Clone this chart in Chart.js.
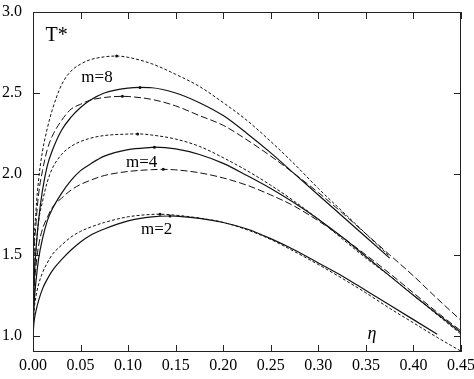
<!DOCTYPE html>
<html>
<head>
<meta charset="utf-8">
<script src="https://cdn.jsdelivr.net/npm/chart.js@4"></script>
<style>
  html, body { margin: 0; padding: 0; background: #fff; }
  #wrap { width: 474px; height: 379px; }
</style>
</head>
<body>
<div id="wrap"><canvas id="chart"></canvas></div>
<script>
// packing fraction grid (eta) and reduced temperature T* per curve
const eta = [0, 0.001, 0.003, 0.006, 0.01, 0.015, 0.02, 0.03, 0.04, 0.05, 0.06, 0.075, 0.1, 0.125, 0.15, 0.175, 0.2, 0.225, 0.25, 0.275, 0.3, 0.325, 0.35, 0.375, 0.4, 0.425, 0.45];

const m8Dotted = [1.0, 1.50, 1.76, 1.97, 2.14, 2.28, 2.39, 2.55, 2.635, 2.678, 2.705, 2.723, 2.72, 2.68, 2.615, 2.54, 2.44, 2.33, 2.20, 2.06, 1.91, 1.77, 1.63, 1.49, null, null, null];
const m8Solid  = [1.0, 1.30, 1.52, 1.72, 1.90, 2.05, 2.14, 2.27, 2.35, 2.41, 2.455, 2.50, 2.53, 2.532, 2.50, 2.44, 2.36, 2.25, 2.13, 2.00, 1.87, 1.74, 1.61, 1.48, null, null, null];
const m8Dashed = [1.0, 1.45, 1.68, 1.88, 2.02, 2.15, 2.23, 2.33, 2.40, 2.43, 2.455, 2.472, 2.478, 2.46, 2.42, 2.36, 2.30, 2.21, 2.11, 2.00, 1.885, 1.76, 1.63, 1.50, 1.37, 1.23, 1.095];

const m4Dotted = [1.0, 1.30, 1.52, 1.71, 1.83, 1.95, 2.03, 2.12, 2.17, 2.20, 2.22, 2.237, 2.246, 2.24, 2.215, 2.17, 2.10, 2.02, 1.93, 1.83, 1.72, 1.60, 1.48, 1.37, 1.25, 1.13, 1.01];
const m4Solid  = [1.0, 1.18, 1.33, 1.48, 1.60, 1.71, 1.78, 1.88, 1.96, 2.02, 2.06, 2.11, 2.15, 2.164, 2.155, 2.12, 2.065, 1.99, 1.91, 1.82, 1.72, 1.61, 1.49, 1.37, 1.25, 1.135, 1.02];
const m4Dashed = [1.0, 1.25, 1.42, 1.56, 1.66, 1.73, 1.79, 1.85, 1.90, 1.935, 1.96, 1.99, 2.015, 2.026, 2.025, 2.007, 1.975, 1.93, 1.87, 1.80, 1.71, 1.61, 1.50, 1.385, 1.265, 1.145, 1.03];

const m2Dotted = [1.0, 1.14, 1.24, 1.32, 1.39, 1.45, 1.50, 1.56, 1.61, 1.645, 1.67, 1.70, 1.735, 1.75, 1.745, 1.727, 1.70, 1.655, 1.595, 1.52, 1.44, 1.355, 1.265, 1.17, 1.08, 0.99, 0.905];
const m2Solid  = [1.0, 1.08, 1.15, 1.22, 1.29, 1.35, 1.40, 1.47, 1.53, 1.58, 1.62, 1.66, 1.71, 1.735, 1.739, 1.725, 1.70, 1.66, 1.60, 1.53, 1.45, 1.37, 1.28, 1.19, 1.10, 1.01, null];

// maxima (marked with a small dot), same order as the series list below
const peakEta = [0.088, 0.1125, 0.094, 0.110, 0.1276, 0.137, 0.1335, 0.144];
const peakT   = [2.728, 2.534, 2.479, 2.247, 2.165, 2.028, 1.751, 1.740];

const xTicks = [0, 0.05, 0.10, 0.15, 0.20, 0.25, 0.30, 0.35, 0.40, 0.45];
const yTicks = [1.0, 1.5, 2.0, 2.5, 3.0];

const serif = "'Liberation Serif', 'DejaVu Serif', serif";

const dotted = [3, 2];
const dashed = [7, 3];
const series = [
    { vals: m8Dotted, dash: dotted, width: 1 },
    { vals: m8Solid,  dash: [],     width: 1.2 },
    { vals: m8Dashed, dash: dashed, width: 1 },
    { vals: m4Dotted, dash: dotted, width: 1 },
    { vals: m4Solid,  dash: [],     width: 1.2 },
    { vals: m4Dashed, dash: dashed, width: 1 },
    { vals: m2Dotted, dash: dotted, width: 1 },
    { vals: m2Solid,  dash: [],     width: 1.2 }
];

const datasets = series.map((s, k) => {
    const pts = eta.map((x, i) => ({ x: x, y: s.vals[i] })).filter(p => p.y !== null);
    pts.push({ x: peakEta[k], y: peakT[k], peak: true });
    pts.sort((a, b) => a.x - b.x);
    return {
        data: pts,
        showLine: true,
        borderColor: '#111',
        backgroundColor: '#111',
        borderWidth: s.width,
        borderDash: s.dash,
        cubicInterpolationMode: 'monotone',
        pointRadius: ctx => (ctx.raw && ctx.raw.peak ? 1.5 : 0),
        pointBorderWidth: 0
    };
});

// text labels placed in data coordinates
const notes = [
    { text: 'T*',  x: 0.0249, y: 2.854, font: '20px ' + serif },
    { text: 'm=8', x: 0.0673, y: 2.594, font: '17px ' + serif },
    { text: 'm=4', x: 0.1143, y: 2.069, font: '17px ' + serif },
    { text: 'm=2', x: 0.130,  y: 1.658, font: '17px ' + serif },
    { text: 'η',   x: 0.3565, y: 1.012, font: 'italic 18px ' + serif }
];

// frame with inward ticks on all four sides, plus text labels
const framePlugin = {
    id: 'frame',
    afterDatasetsDraw(chart) {
        const { ctx, chartArea: a, scales: { x, y } } = chart;
        const len = 7;
        ctx.save();
        ctx.strokeStyle = '#222';
        ctx.lineWidth = 1;
        ctx.setLineDash([]);
        ctx.strokeRect(a.left + 0.5, a.top + 0.5, a.right - a.left - 1, a.bottom - a.top - 1);
        ctx.beginPath();
        xTicks.forEach(v => {
            const px = Math.round(x.getPixelForValue(v)) + 0.5;
            ctx.moveTo(px, a.bottom); ctx.lineTo(px, a.bottom - len);
            ctx.moveTo(px, a.top); ctx.lineTo(px, a.top + len);
        });
        yTicks.forEach(v => {
            const py = Math.round(y.getPixelForValue(v)) + 0.5;
            ctx.moveTo(a.left, py); ctx.lineTo(a.left + len, py);
            ctx.moveTo(a.right, py); ctx.lineTo(a.right - len, py);
        });
        ctx.stroke();

        ctx.fillStyle = '#000';
        ctx.textAlign = 'center';
        ctx.textBaseline = 'middle';
        notes.forEach(n => {
            ctx.font = n.font;
            ctx.fillText(n.text, x.getPixelForValue(n.x), y.getPixelForValue(n.y));
        });
        ctx.restore();
    }
};

new Chart(document.getElementById('chart'), {
    type: 'scatter',
    data: { datasets: datasets },
    options: {
        responsive: true,
        maintainAspectRatio: false,
        animation: false,
        layout: { padding: { top: 12, right: 13, left: 0, bottom: 0 } },
        plugins: {
            legend: { display: false },
            tooltip: { enabled: false }
        },
        scales: {
            x: {
                type: 'linear',
                min: 0,
                max: 0.45,
                afterBuildTicks: s => { s.ticks = xTicks.map(v => ({ value: v })); },
                afterFit: s => { s.height = 27; s.paddingLeft = 0; s.paddingRight = 0; },
                grid: { display: false, drawTicks: false },
                border: { display: false },
                ticks: {
                    callback: v => v.toFixed(2),
                    font: { family: serif, size: 16 },
                    color: '#000',
                    padding: 4,
                    maxRotation: 0,
                    autoSkip: false
                }
            },
            y: {
                type: 'linear',
                min: 0.9,
                max: 3.0,
                afterBuildTicks: s => { s.ticks = yTicks.map(v => ({ value: v })); },
                afterFit: s => { s.width = 33; s.paddingTop = 0; s.paddingBottom = 0; },
                grid: { display: false, drawTicks: false },
                border: { display: false },
                ticks: {
                    callback: v => v.toFixed(1),
                    font: { family: serif, size: 16 },
                    color: '#000',
                    padding: 11
                }
            }
        }
    },
    plugins: [framePlugin]
});
</script>
</body>
</html>
